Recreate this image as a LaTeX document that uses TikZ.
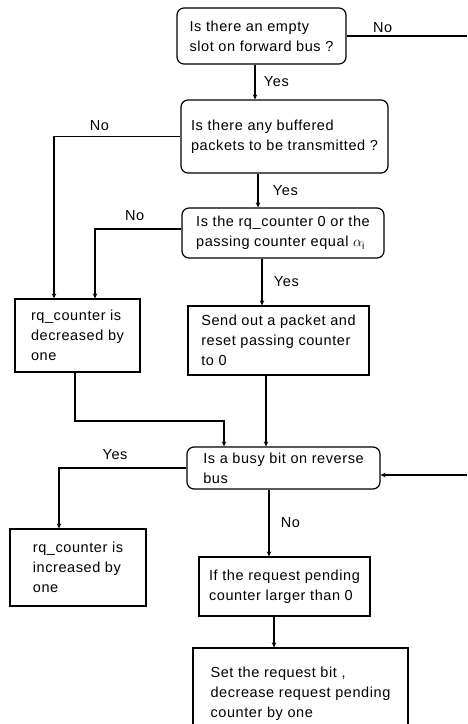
\documentclass[tikz,border=0pt]{standalone}
\usepackage{fontspec}
\setmainfont{Liberation Sans}[LetterSpace=4]
\usepackage{tikz}
\usetikzlibrary{
  arrows.meta
  , calc
}

\begin{document}
\begin{tikzpicture}[
    x=1pt, y=1pt,
    every node/.style={font=\fontsize{14.5}{20}\selectfont},
    query/.style={draw, line width=1.2pt, rounded corners=7pt, align=left, inner sep=0pt},
    action/.style={draw, line width=1.2pt, align=left, inner sep=0pt},
    flow/.style={line width=1.9pt, -{Stealth[length=5pt, width=4.5pt]}},
    wire/.style={line width=1.9pt},
    answer/.style={inner sep=2pt},
  ]
  \useasboundingbox (0,0) rectangle (467,-724);
  \clip (0,0) rectangle (467,-724);

  % questions
  \node [query, minimum width=169, minimum height=56] (EmptySlot) at (261.5,-36)
    {Is there an empty\\slot on forward bus ?};
  \node [query, minimum width=207, minimum height=73] (Buffered) at (284.5,-136.5)
    {Is there any buffered\\packets to be transmitted ?};
  \node [query, minimum width=202, minimum height=50] (Passing) at (283,-233)
    {Is the rq\_counter 0 or the\\passing counter equal $\alpha_{\mathrm{i}}$};
  \node [query, minimum width=193, minimum height=42] (BusyBit) at (283.5,-468)
    {Is a busy bit on reverse\\bus};

  % actions
  \node [action, minimum width=125, minimum height=73] (RqDec) at (77.5,-335.5)
    {rq\_counter is\\decreased by\\one};
  \node [action, minimum width=181, minimum height=69] (SendOut) at (278.5,-340.5)
    {Send out a packet and\\reset passing counter\\to 0};
  \node [action, minimum width=136, minimum height=77] (RqInc) at (78,-567.5)
    {rq\_counter is\\increased by\\one};
  \node [action, minimum width=171, minimum height=59] (Pending) at (284.5,-586.5)
    {If the request pending\\counter larger than 0};
  \node [action, minimum width=215, minimum height=92] (SetReq) at (300.5,-694)
    {Set the request bit ,\\decrease request pending\\counter by one};

  \coordinate (FwdOut) at (467,-34);
  \coordinate (RevIn) at (467,-475);
  % entry points on the tops of the boxes
  \coordinate (DecA) at ([xshift=-23.5]RqDec.north);
  \coordinate (DecB) at ([xshift=17.5]RqDec.north);
  \coordinate (IncA) at ([xshift=-19]RqInc.north);
  \coordinate (PassW) at ([yshift=4]Passing.west);

  % connectors
  \draw[wire] (EmptySlot.east) -- node[answer, above, pos=0.3]{No} (EmptySlot.east -| FwdOut);

  \draw[flow] ([xshift=-6.5]EmptySlot.south) coordinate (ab)
    -- node[answer, right=6pt, midway]{Yes} (ab |- Buffered.north);

  \draw[flow] (Buffered.west) -- node[answer, above=3pt, pos=0.64]{No} (DecA |- Buffered.west)
    -- (DecA);

  \draw[flow] ([xshift=-26.5]Buffered.south) coordinate (bc)
    -- node[answer, right=12pt, midway]{Yes} (bc |- Passing.north);

  \draw[flow] (PassW) -- node[answer, above=5pt, pos=0.54]{No} (DecB |- PassW)
    -- (DecB);

  \draw[flow] ([xshift=-21]Passing.south) coordinate (ce)
    -- node[answer, right=9pt, midway]{Yes} (ce |- SendOut.north);

  \draw[flow] ([xshift=-2.5]RqDec.south) -- ++(0,-48) -| ([xshift=-59.5]BusyBit.north);

  \draw[flow] ([xshift=-12.5]SendOut.south) coordinate (ef)
    -- (ef |- BusyBit.north);

  \draw[flow] (BusyBit.west) -- node[answer, above=5pt, pos=0.56]{Yes} (IncA |- BusyBit.west)
    -- (IncA);

  \draw[flow] (RevIn) -- (RevIn -| BusyBit.east);

  \draw[flow] ([xshift=-14.5]BusyBit.south) coordinate (fh)
    -- node[answer, right=9pt, midway]{No} (fh |- Pending.north);

  \draw[flow] ([xshift=-10.5]Pending.south) coordinate (hi)
    -- (hi |- SetReq.north);
\end{tikzpicture}
\end{document}
